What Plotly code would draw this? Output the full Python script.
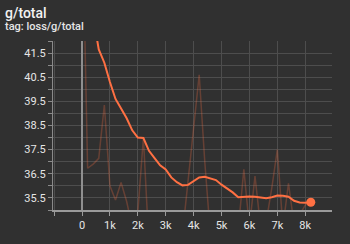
import plotly.graph_objects as go

steps = [0, 200, 400, 600, 800, 1000, 1200, 1400, 1600, 1800, 2000, 2200, 2400, 2600,
         2800, 3000, 3200, 3400, 3600, 3800, 4000, 4200, 4400, 4600, 4800, 5000, 5200,
         5400, 5600, 5800, 6000, 6200, 6400, 6600, 6800, 7000, 7200, 7400, 7600, 7800,
         8000, 8200]

raw_values = [48.0, 36.73, 36.9, 37.14, 39.35, 36.0, 35.41, 36.14, 35.35, 34.3, 34.9, 38.0,
              33.5, 34.2, 34.4, 34.0, 34.5, 34.6, 34.0, 36.2, 38.4, 40.6, 37.0, 34.0, 34.6,
              34.5, 34.7, 34.6, 34.2, 36.68, 34.3, 36.4, 34.3, 34.5, 35.9, 37.5, 34.3, 36.1,
              34.4, 34.8, 35.2, 35.4]

smoothed_values = [48.0, 45.5, 43.0, 41.65, 41.1, 40.3, 39.6, 39.2, 38.8, 38.3, 38.0, 37.98,
                   37.45, 37.15, 36.85, 36.68, 36.35, 36.15, 36.02, 36.04, 36.18, 36.35, 36.38,
                   36.3, 36.24, 36.05, 35.9, 35.73, 35.53, 35.55, 35.56, 35.55, 35.52, 35.49,
                   35.53, 35.6, 35.59, 35.55, 35.38, 35.31, 35.3, 35.32]

x_tickvals = [-1000, 0, 1000, 2000, 3000, 4000, 5000, 6000, 7000, 8000]
x_ticktext = ["", "0", "1k", "2k", "3k", "4k", "5k", "6k", "7k", "8k"]
y_tickvals = [35.0, 35.5, 36.0, 36.5, 37.0, 37.5, 38.0, 38.5, 39.0, 39.5, 40.0, 40.5, 41.0, 41.5, 42.0]
y_ticktext = ["", "35.5", "", "36.5", "", "37.5", "", "38.5", "", "39.5", "", "40.5", "", "41.5", ""]

title = "g/total"
subtitle = "tag: loss/g/total"

BG = "#303030"
GRID = "#4d4d4d"
TEXT = "#e6e6e6"
ORANGE = "#ff7043"

fig = go.Figure()
fig.add_trace(go.Scatter(x=steps, y=raw_values, mode="lines",
                         line=dict(color=ORANGE, width=1.5), opacity=0.26,
                         hoverinfo="skip"))
fig.add_trace(go.Scatter(x=steps, y=smoothed_values, mode="lines",
                         line=dict(color=ORANGE, width=2)))
fig.add_trace(go.Scatter(x=steps[-1:], y=smoothed_values[-1:], mode="markers",
                         marker=dict(color=ORANGE, size=9), cliponaxis=False))

fig.update_layout(
    width=350, height=244,
    margin=dict(l=53, r=18, t=41, b=26),
    paper_bgcolor=BG, plot_bgcolor=BG,
    showlegend=False,
    font=dict(family="Roboto", color=TEXT, size=11),
    xaxis=dict(range=[-1040, 8960], tickmode="array", tickvals=x_tickvals,
               ticktext=x_ticktext, showgrid=True, gridcolor=GRID, gridwidth=1,
               zeroline=True, zerolinecolor="#8f8f8f", zerolinewidth=2,
               showline=True, linecolor="#9a9a9a", linewidth=2,
               ticks="outside", ticklen=4, tickcolor="#9a9a9a",
               tickfont=dict(size=11, color=TEXT)),
    yaxis=dict(range=[35, 42], tickmode="array", tickvals=y_tickvals,
               ticktext=y_ticktext, showgrid=True, gridcolor=GRID, gridwidth=1,
               zeroline=False, showline=True, linecolor="#8a8a8a", linewidth=1,
               ticks="outside", ticklen=4, tickcolor="#8a8a8a",
               tickfont=dict(size=11, color=TEXT)),
    annotations=[
        dict(text=title, xref="paper", yref="paper", x=(3 - 53) / 279, y=1 + (41 - 1) / 177,
             xanchor="left", yanchor="top", showarrow=False,
             font=dict(size=14, color="#f2f2f2", family="Roboto", weight=500)),
        dict(text=subtitle, xref="paper", yref="paper", x=(3 - 53) / 279, y=1 + (41 - 17) / 177,
             xanchor="left", yanchor="top", showarrow=False,
             font=dict(size=11, color=TEXT, family="Roboto", weight=500)),
    ],
)

fig.write_html("out.html")
